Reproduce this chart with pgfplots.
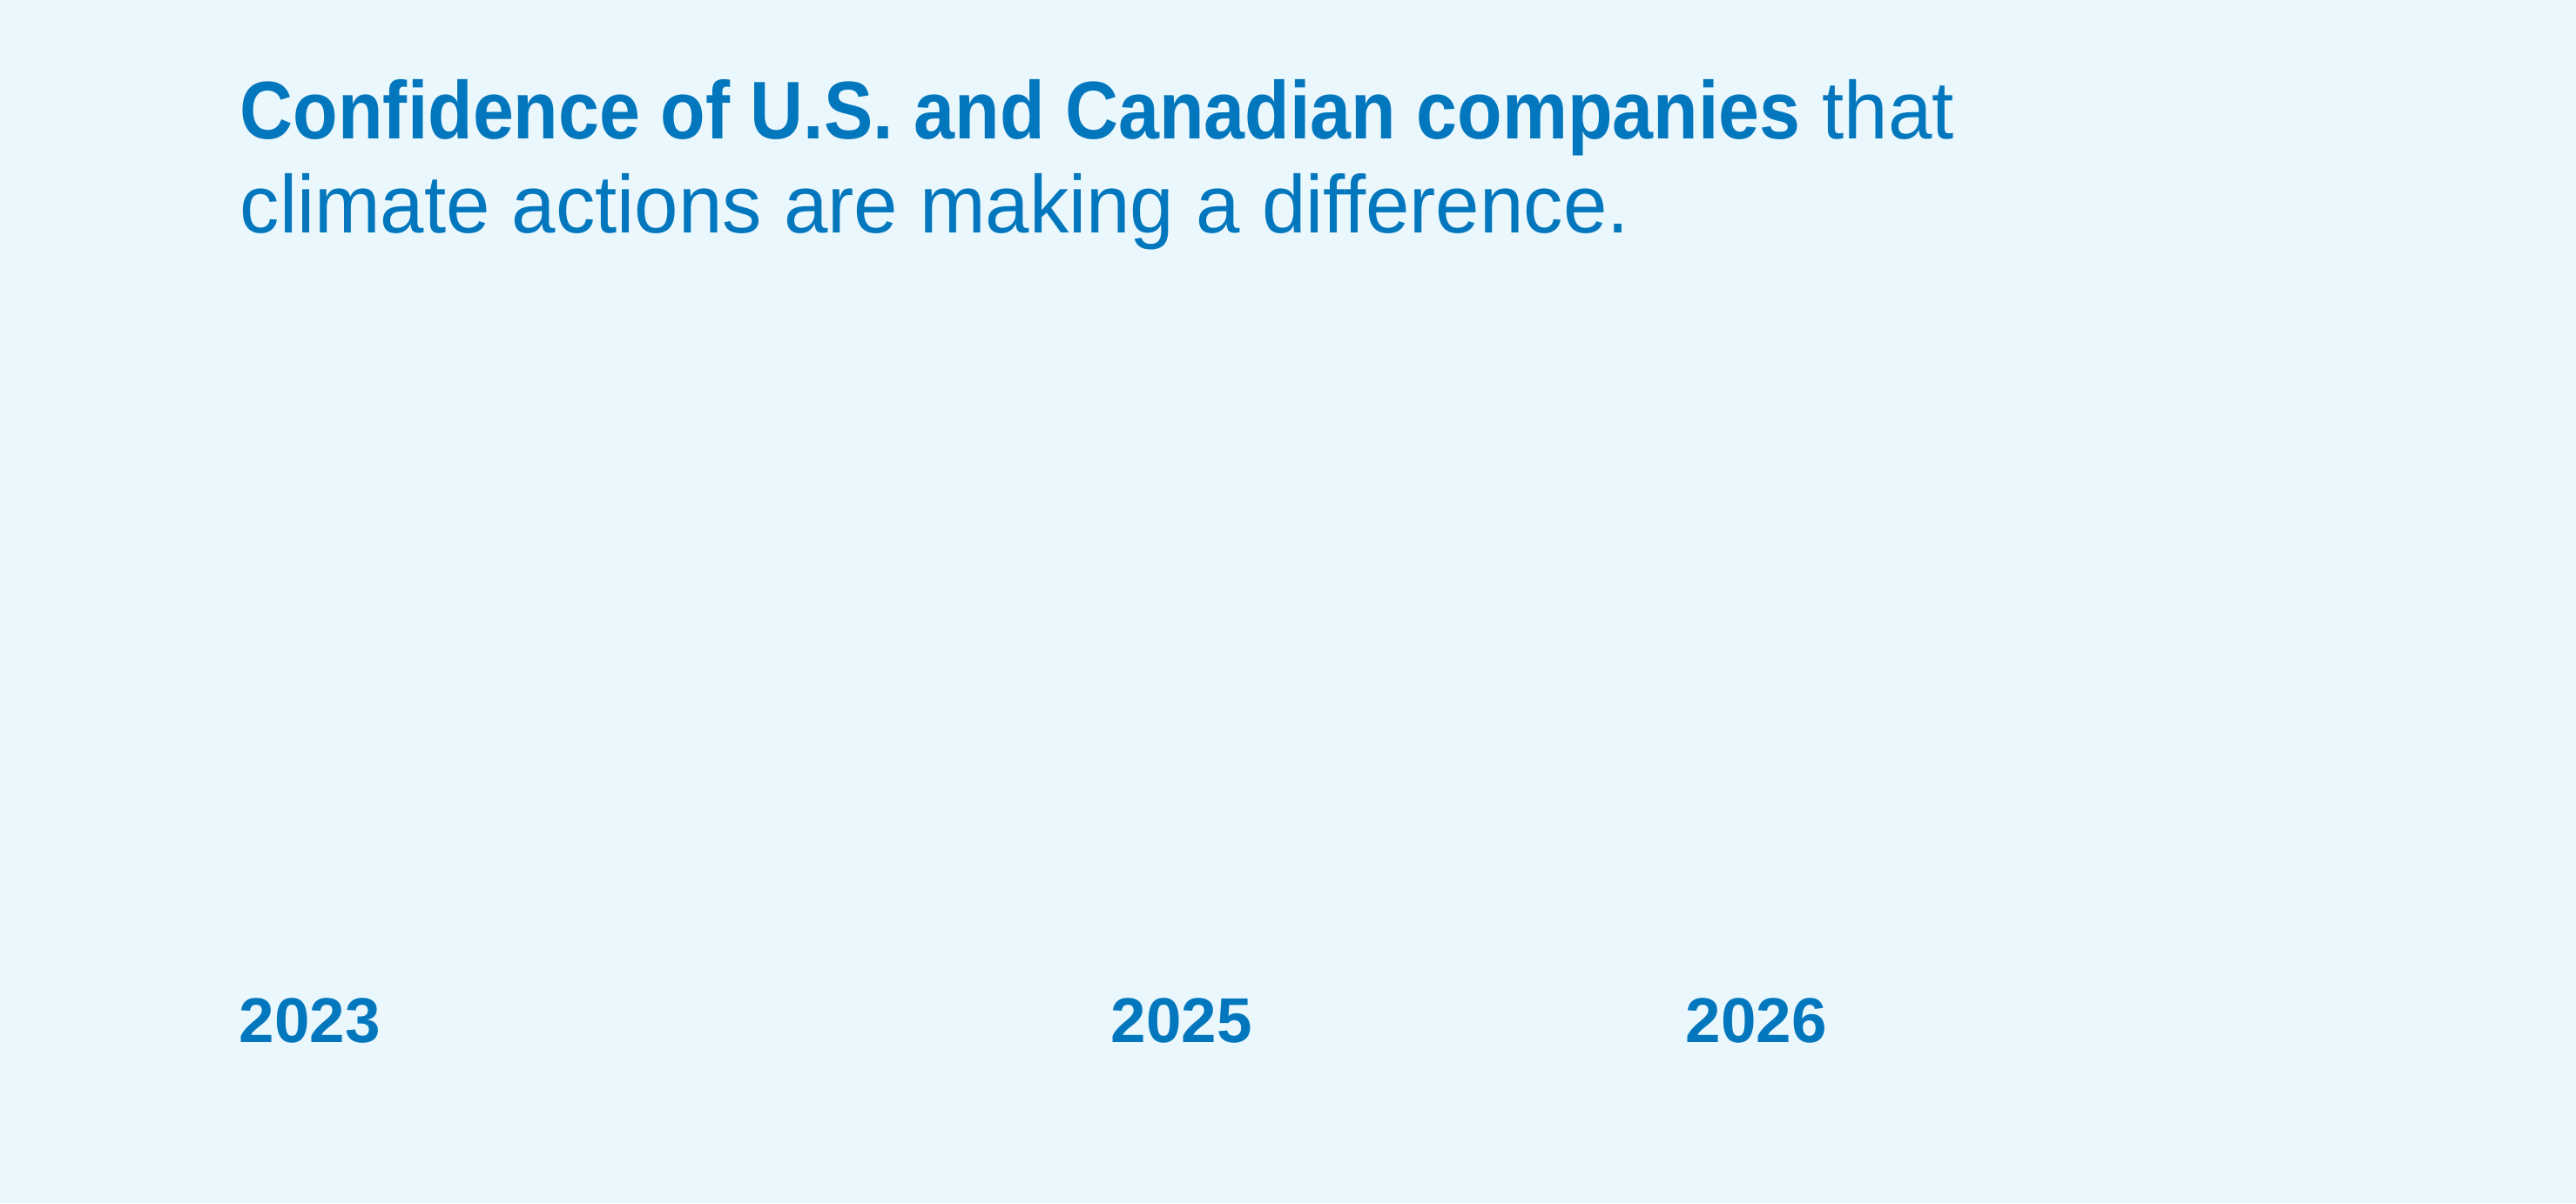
\documentclass[border=0pt]{standalone}
\usepackage{pgfplots}
\pgfplotsset{compat=1.18}
\usepackage{fontspec}
\setmainfont{Liberation Sans}[FakeStretch=0.964, BoldFeatures={FakeStretch=0.898}]
\newfontfamily\yearfont{Liberation Sans Bold}

\definecolor{bgcol}{HTML}{EAF7FD}
\definecolor{txtcol}{HTML}{0277BD}

\begin{document}
\begin{tikzpicture}
  \begin{axis}[
    width=739.5pt, height=345.5pt, scale only axis,
    xmin=0, xmax=2958, ymin=0, ymax=1382,
    axis background/.style={fill=bgcol, draw=none},
    axis line style={draw=none},
    major tick length=0pt,
    ytick=\empty,
    xtick={274,1275,1935},
    xticklabels={2023,2025,2026},
    xticklabel style={anchor=base west, inner sep=0pt, yshift=46.25pt,
      text=txtcol, font=\yearfont\fontsize{18.2}{18.2}\selectfont},
    clip=false
  ]
  % title, two lines
  \node[anchor=base west, inner sep=0pt, text=txtcol,
    font=\fontsize{23.5}{27}\selectfont] at (axis cs:275,1223)
    {\textbf{Confidence of U.S. and Canadian companies} that};
  \node[anchor=base west, inner sep=0pt, text=txtcol,
    font=\fontsize{23.5}{27}\selectfont] at (axis cs:275,1115)
    {climate actions are making a difference.};
  \end{axis}
\end{tikzpicture}
\end{document}
